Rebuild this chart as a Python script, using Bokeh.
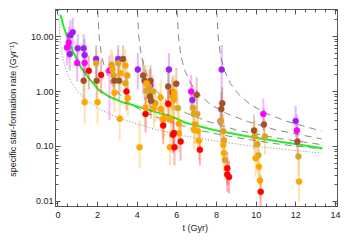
from bokeh.plotting import figure
from bokeh.models import LinearAxis, LogAxis, Range1d, FixedTicker, PrintfTickFormatter
from bokeh.embed import file_html
from bokeh.resources import INLINE

# ---------------- data ----------------
purple_t  = [0.63, 0.75, 0.60, 1.00, 1.30, 1.35, 1.93, 3.04, 4.03, 5.60, 6.78, 8.26, 11.99]
purple_y  = [10.5, 12.0, 4.8, 6.1, 6.1, 4.6, 3.9, 3.9, 2.5, 2.5, 0.70, 2.5, 0.29]
purple_lo = [5.0, 6.0, 2.4, 3.0, 3.0, 2.2, 1.8, 1.8, 1.1, 1.1, 0.35, 0.5, 0.15]
purple_hi = [20.0, 22.0, 9.0, 11.0, 11.0, 9.0, 7.0, 7.0, 5.0, 5.0, 1.3, 7.0, 0.55]

magenta_t  = [0.55, 0.46, 0.97, 1.35, 2.60, 4.67, 6.72, 8.20, 10.36, 12.05]
magenta_y  = [7.8, 6.3, 3.3, 3.3, 2.4, 1.3, 1.0, 0.29, 0.39, 0.195]
magenta_lo = [4.0, 3.0, 1.5, 1.5, 0.3, 0.6, 0.5, 0.15, 0.2, 0.1]
magenta_hi = [15.0, 12.0, 6.0, 6.0, 4.5, 2.6, 2.0, 0.55, 0.75, 0.38]

red_t  = [1.56, 2.18, 3.46, 4.42, 5.31, 5.56, 5.85, 5.80, 5.88, 6.19, 7.16, 8.54, 8.54, 8.63, 10.23]
red_y  = [2.38, 2.0, 1.0, 0.39, 0.24, 0.6, 0.175, 0.163, 0.097, 0.123, 0.087, 0.040, 0.031, 0.028, 0.015]
red_lo = [1.1, 0.9, 0.45, 0.18, 0.11, 0.28, 0.08, 0.075, 0.045, 0.055, 0.045, 0.02, 0.015, 0.014, 0.008]
red_hi = [4.5, 3.8, 2.0, 0.8, 0.5, 1.2, 0.35, 0.33, 0.2, 0.25, 0.17, 0.08, 0.06, 0.055, 0.03]

sienna_t  = [1.30, 1.96, 2.85, 3.09, 3.29, 4.30, 4.37, 4.67, 4.64, 4.70, 5.56, 5.97, 5.77, 7.00, 8.29, 8.24, 9.89, 10.39, 12.08]
sienna_y  = [1.57, 1.57, 1.57, 1.57, 3.9, 1.95, 1.57, 1.57, 0.81, 0.68, 1.23, 1.38, 0.97, 0.87, 0.61, 0.48, 0.195, 0.25, 0.123]
sienna_lo = [0.7, 0.7, 0.7, 0.7, 1.8, 0.9, 0.7, 0.7, 0.38, 0.32, 0.55, 0.6, 0.45, 0.4, 0.3, 0.22, 0.09, 0.12, 0.06]
sienna_hi = [3.0, 3.0, 3.0, 3.0, 7.0, 3.8, 3.0, 3.0, 1.6, 1.3, 2.4, 2.7, 1.9, 1.8, 1.2, 1.0, 0.38, 0.5, 0.25]

gold_t  = [1.93, 2.70, 3.04, 2.82, 3.50, 3.40, 4.59, 4.80, 4.47, 4.92, 5.77, 6.05, 6.81, 6.86, 7.03, 6.91, 8.22, 8.34, 8.37, 8.42, 9.92, 10.44, 10.06, 10.11, 12.13]
gold_y  = [3.27, 3.05, 3.27, 1.95, 1.95, 1.42, 1.23, 1.0, 1.03, 0.61, 0.81, 0.5, 0.5, 0.39, 0.39, 0.25, 0.29, 0.19, 0.13, 0.057, 0.152, 0.152, 0.11, 0.069, 0.066]
gold_lo = [1.5, 1.4, 1.5, 0.9, 0.9, 0.65, 0.55, 0.45, 0.45, 0.28, 0.38, 0.23, 0.23, 0.18, 0.18, 0.11, 0.13, 0.09, 0.06, 0.025, 0.07, 0.07, 0.05, 0.03, 0.03]
gold_hi = [6.0, 5.8, 6.0, 3.8, 3.8, 2.8, 2.5, 2.0, 2.0, 1.2, 1.6, 1.0, 1.0, 0.8, 0.8, 0.5, 0.6, 0.38, 0.27, 0.12, 0.3, 0.3, 0.22, 0.14, 0.14]

orange_t  = [1.35, 2.00, 3.40, 3.16, 2.75, 3.53, 3.12, 2.85, 4.47, 4.42, 4.84, 5.18, 5.18, 5.85, 5.85, 5.85, 5.60, 5.38, 5.68, 5.28, 4.12, 5.65, 6.10, 6.10, 6.86, 7.06, 7.11, 8.34, 8.37, 9.97, 10.14, 10.19, 12.16]
orange_y  = [0.64, 0.64, 2.97, 2.15, 2.48, 0.76, 0.32, 0.95, 1.42, 0.51, 0.5, 0.78, 0.48, 0.81, 0.97, 0.71, 0.57, 0.33, 0.31, 0.31, 0.097, 0.097, 0.26, 0.175, 0.2, 0.19, 0.127, 0.107, 0.076, 0.061, 0.043, 0.024, 0.023]
orange_lo = [0.25, 0.25, 1.3, 1.0, 1.1, 0.35, 0.13, 0.42, 0.65, 0.23, 0.22, 0.35, 0.22, 0.36, 0.44, 0.32, 0.26, 0.15, 0.14, 0.14, 0.04, 0.045, 0.12, 0.08, 0.09, 0.085, 0.055, 0.05, 0.035, 0.028, 0.02, 0.011, 0.01]
orange_hi = [1.4, 1.4, 6.0, 4.3, 5.0, 1.6, 0.7, 2.0, 2.9, 1.1, 1.0, 1.6, 1.0, 1.7, 2.0, 1.5, 1.2, 0.7, 0.65, 0.65, 0.3, 0.2, 0.55, 0.36, 0.42, 0.4, 0.27, 0.22, 0.16, 0.13, 0.09, 0.05, 0.06]

# model curves
green_t = [0.126, 0.29, 0.55, 0.80, 1.14, 1.56, 2.06, 2.57, 3.24, 3.49, 4.84, 5.68, 6.44, 7.87, 9.47, 11.15, 13.34]
green_y = [24.8, 15.2, 8.1, 5.0, 2.85, 1.75, 1.07, 0.81, 0.64, 0.61, 0.43, 0.36, 0.27, 0.20, 0.155, 0.123, 0.093]

dot_t = [0.04, 0.1, 0.2, 0.35, 0.5, 0.75, 1.0, 1.5, 2.0, 2.65, 3.5, 4.8, 6.4, 8.0, 9.5, 11.2, 13.3]
dot_y = [25, 10, 5.0, 2.9, 2.0, 1.35, 1.0, 0.67, 0.5, 0.38, 0.29, 0.21, 0.155, 0.125, 0.105, 0.09, 0.076]

dash2_t = [2.0, 2.02, 2.08, 2.2, 2.4, 2.7, 3.1, 3.7, 4.5, 5.5, 7.0, 9.0, 11.0, 13.3]
dash2_y = [30, 25, 10, 4.5, 2.4, 1.4, 0.9, 0.58, 0.4, 0.29, 0.2, 0.145, 0.112, 0.09]
dash4_t = [4.0, 4.02, 4.08, 4.2, 4.4, 4.7, 5.1, 5.7, 6.5, 7.5, 9.0, 11.0, 13.3]
dash4_y = [30, 25, 10, 4.5, 2.4, 1.4, 0.9, 0.58, 0.4, 0.29, 0.2, 0.143, 0.108]
dash6_t = [6.0, 6.02, 6.08, 6.2, 6.4, 6.7, 7.1, 7.7, 8.5, 9.5, 11.0, 13.3]
dash6_y = [30, 25, 10, 4.5, 2.4, 1.4, 0.9, 0.58, 0.4, 0.29, 0.2, 0.137]
dash8_t = [8.0, 8.02, 8.08, 8.2, 8.4, 8.7, 9.1, 9.7, 10.5, 11.5, 13.3]
dash8_y = [30, 25, 10, 4.5, 2.4, 1.4, 0.9, 0.58, 0.4, 0.29, 0.19]

x_ticks = [0, 2, 4, 6, 8, 10, 12, 14]
y_ticks = [0.01, 0.1, 1.0, 10.0]
x_minor = [v / 2 for v in range(0, 29)]
y_minor = [m * 10.0 ** e for e in range(-3, 2) for m in range(2, 10)]

FONT = "Liberation Sans"
AX = "#555555"

p = figure(width=349, height=242, output_backend="svg", toolbar_location=None,
           y_axis_type="log", x_range=Range1d(-0.12, 14.1), y_range=Range1d(0.0081, 31),
           min_border_left=55, min_border_right=12, min_border_top=9, min_border_bottom=36,
           background_fill_color="white", border_fill_color="white")
p.grid.visible = False
p.outline_line_color = AX

# model curves
for tt, yy in [(dash2_t, dash2_y), (dash4_t, dash4_y), (dash6_t, dash6_y), (dash8_t, dash8_y)]:
    p.line(tt, yy, line_color="#888888", line_width=1, line_dash="7 5")
p.line(dot_t, dot_y, line_color="#888888", line_width=1, line_dash="1 2")
p.line(green_t, green_y, line_color="#22ee22", line_width=2)

groups = [
    (purple_t, purple_y, purple_lo, purple_hi, "#a020f0"),
    (magenta_t, magenta_y, magenta_lo, magenta_hi, "#ff00ff"),
    (gold_t, gold_y, gold_lo, gold_hi, "#daa520"),
    (sienna_t, sienna_y, sienna_lo, sienna_hi, "#a0522d"),
    (orange_t, orange_y, orange_lo, orange_hi, "#ffa500"),
    (red_t, red_y, red_lo, red_hi, "#ff0000"),
]
for tt, yy, lo, hi, c in groups:
    p.segment(x0=tt, y0=lo, x1=tt, y1=hi, line_color=c, line_alpha=0.3, line_width=2)
for tt, yy, lo, hi, c in groups:
    p.scatter(tt, yy, size=6, fill_color=c, line_color=c, line_width=0.5)

def style(ax, labels=True):
    ax.axis_line_color = AX
    ax.major_tick_line_color = AX
    ax.minor_tick_line_color = AX
    ax.major_tick_in = 5
    ax.major_tick_out = 0
    ax.minor_tick_in = 3
    ax.minor_tick_out = 0
    ax.major_label_text_font = FONT
    ax.axis_label_text_font = FONT
    ax.axis_label_text_font_style = "normal"
    ax.axis_label_text_color = "#222222"
    ax.major_label_text_font_size = "9px"
    ax.axis_label_text_font_size = "9px"
    if labels:
        ax.major_label_text_color = "#222222"
    else:
        ax.major_label_text_color = None
        ax.major_label_standoff = 0

xa = p.xaxis[0]
xa.ticker = FixedTicker(ticks=x_ticks, minor_ticks=x_minor)
xa.axis_label = "t  (Gyr)"
style(xa)
xa.major_label_standoff = 5
xa.axis_label_standoff = 2

ya = p.yaxis[0]
ya.ticker = FixedTicker(ticks=y_ticks, minor_ticks=y_minor)
ya.formatter = PrintfTickFormatter(format="%.2f")
ya.axis_label = "specific star-formation rate  (Gyr\u207b\u00b9)"
style(ya)
ya.major_label_standoff = 2
ya.axis_label_standoff = 10

top = LinearAxis(ticker=FixedTicker(ticks=x_ticks, minor_ticks=x_minor))
style(top, labels=False)
p.add_layout(top, "above")
right = LogAxis(ticker=FixedTicker(ticks=y_ticks, minor_ticks=y_minor))
style(right, labels=False)
p.add_layout(right, "right")

open("out.html", "w").write(file_html(p, INLINE))
